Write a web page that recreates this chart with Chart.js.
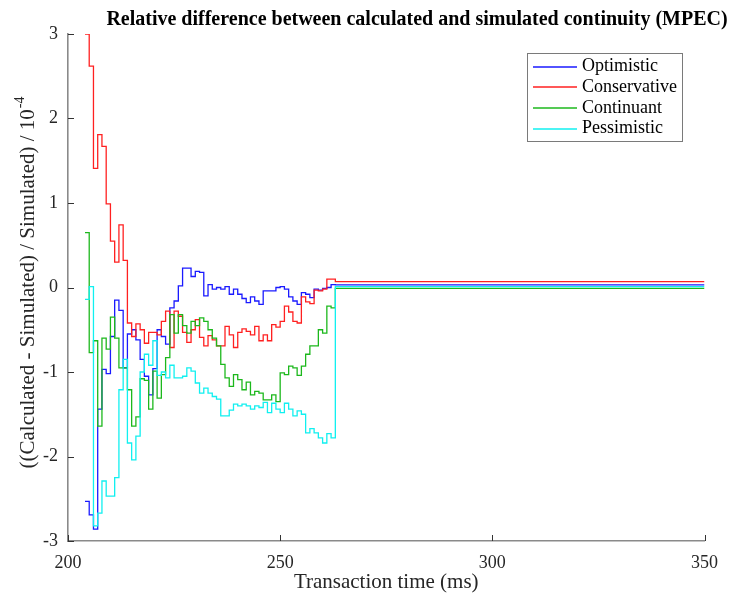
<!DOCTYPE html>
<html>
<head>
<meta charset="utf-8">
<script src="https://cdn.jsdelivr.net/npm/chart.js@4/dist/chart.umd.min.js"></script>
<style>
  html, body { margin: 0; padding: 0; background: #ffffff; }
  #wrap { width: 729px; height: 599px; }
</style>
</head>
<body>
<div id="wrap"><canvas id="c" width="729" height="599"></canvas></div>
<script>
// Transaction times (ms) at which each step starts
const times = [204,205,206,207,208,209,210,211,212,213,214,215,216,217,218,219,220,221,222,223,
  224,225,226,227,228,229,230,231,232,233,234,235,236,237,238,239,240,241,242,243,
  244,245,246,247,248,249,250,251,252,253,254,255,256,257,258,259,260,261,262];
// Time at which every model settles, and end of the time axis
const settleTime = 263;
const endTime = 350;

// Relative difference (x 1e-4) per model
const optimistic = [-2.53,-2.69,-2.86,-1.44,-0.97,-1.02,-0.58,-0.15,-0.27,-0.95,-0.55,-0.50,-0.62,-0.85,-1.05,-1.27,-0.96,-0.50,-0.58,-0.67,
  -0.24,-0.16,0.02,0.23,0.23,0.13,0.19,0.18,-0.10,0.035,-0.02,0.0,-0.02,0.01,-0.08,-0.02,-0.08,-0.13,-0.18,-0.11,
  -0.16,-0.20,-0.04,-0.04,-0.04,0.0,0.01,-0.02,-0.11,-0.16,-0.20,-0.06,-0.08,-0.12,-0.02,-0.03,-0.01,0.0,0.035];
const conservative = [3.0,2.62,1.41,1.81,1.67,0.99,0.55,0.30,0.74,0.32,-0.42,-0.58,-0.43,-0.50,-0.66,-0.53,-0.53,-0.56,-0.40,-0.28,
  -0.71,-0.28,-0.34,-0.53,-0.65,-0.50,-0.38,-0.59,-0.69,-0.57,-0.62,-0.69,-0.69,-0.46,-0.56,-0.71,-0.53,-0.49,-0.52,-0.56,
  -0.46,-0.63,-0.56,-0.63,-0.44,-0.47,-0.40,-0.22,-0.29,-0.40,-0.42,-0.11,-0.17,-0.19,-0.03,-0.04,-0.02,0.10,0.10];
const continuant = [0.65,-0.77,-0.63,-1.64,-0.60,-0.73,-0.35,-0.60,-0.95,-0.95,-1.21,-1.64,-1.53,-1.08,-1.10,-1.44,-0.99,-1.31,-1.03,-0.83,
  -0.32,-0.54,-0.32,-0.45,-0.54,-0.40,-0.45,-0.36,-0.40,-0.50,-0.60,-0.69,-0.91,-1.07,-1.17,-1.03,-1.09,-1.21,-1.12,-1.27,
  -1.23,-1.25,-1.33,-1.33,-1.27,-1.35,-1.01,-1.03,-0.93,-0.95,-1.04,-0.93,-0.79,-0.69,-0.69,-0.50,-0.54,-0.22,-0.24];
const pessimistic = [-0.14,0.01,-2.82,-2.67,-2.29,-2.47,-2.47,-2.25,-1.21,-0.85,-1.84,-2.04,-1.76,-1.00,-0.79,-0.92,-0.63,-1.04,-1.00,-1.07,
  -0.92,-1.07,-1.07,-1.05,-0.95,-0.99,-1.13,-1.25,-1.19,-1.25,-1.29,-1.32,-1.52,-1.52,-1.45,-1.38,-1.40,-1.38,-1.40,-1.44,
  -1.40,-1.42,-1.36,-1.48,-1.37,-1.44,-1.48,-1.37,-1.44,-1.52,-1.46,-1.50,-1.72,-1.67,-1.72,-1.78,-1.84,-1.73,-1.78];
// Settled values after the transient
const settledValues = { optimistic: 0.03, conservative: 0.07, continuant: -0.01, pessimistic: 0.01 };

const seriesNames = ['Optimistic', 'Conservative', 'Continuant', 'Pessimistic'];
const seriesColors = ['#1a1aff', '#ff2020', '#1cb81c', '#10f0f0'];
const xTicks = [200, 250, 300, 350];
const yTicks = [-3, -2, -1, 0, 1, 2, 3];

const serif = "'Liberation Serif', 'Times New Roman', serif";

function toPoints(values, settled) {
  const pts = times.map((t, i) => ({ x: t, y: values[i] }));
  pts.push({ x: settleTime, y: settled });
  pts.push({ x: endTime, y: settled });
  return pts;
}

const seriesValues = [optimistic, conservative, continuant, pessimistic];
const settledList = [settledValues.optimistic, settledValues.conservative, settledValues.continuant, settledValues.pessimistic];

const datasets = seriesNames.map((name, i) => ({
  label: name,
  data: toPoints(seriesValues[i], settledList[i]),
  borderColor: seriesColors[i],
  backgroundColor: seriesColors[i],
  borderWidth: 1.3,
  pointRadius: 0,
  stepped: true,
  fill: false,
  order: seriesNames.length - i
}));

// Titles, inward tick marks and the boxed legend
const decorations = {
  id: 'decorations',
  afterDraw(chart) {
    const ctx = chart.ctx;
    const area = chart.chartArea;
    const xs = chart.scales.x, ys = chart.scales.y;
    ctx.save();

    // inward tick marks
    ctx.strokeStyle = '#333333';
    ctx.lineWidth = 1;
    ctx.beginPath();
    xTicks.forEach(v => {
      const px = Math.round(xs.getPixelForValue(v)) + 0.5;
      ctx.moveTo(px, area.bottom);
      ctx.lineTo(px, area.bottom - 6);
    });
    yTicks.forEach(v => {
      const py = Math.round(ys.getPixelForValue(v)) + 0.5;
      ctx.moveTo(area.left, py);
      ctx.lineTo(area.left + 6, py);
    });
    ctx.stroke();

    // chart title
    ctx.fillStyle = '#000000';
    ctx.font = 'bold 20px ' + serif;
    ctx.textAlign = 'center';
    ctx.textBaseline = 'middle';
    ctx.fillText('Relative difference between calculated and simulated continuity (MPEC)', 417, 20);

    // x axis title
    ctx.fillStyle = '#262626';
    ctx.font = '21px ' + serif;
    ctx.fillText('Transaction time (ms)', (area.left + area.right) / 2, 582);

    // y axis title with superscript exponent
    const mainText = '((Calculated - Simulated) / Simulated) / 10';
    const supText = '-4';
    ctx.font = '21px ' + serif;
    const w1 = ctx.measureText(mainText).width;
    ctx.font = '14px ' + serif;
    const w2 = ctx.measureText(supText).width;
    ctx.translate(28, 283);
    ctx.rotate(-Math.PI / 2);
    ctx.textAlign = 'left';
    ctx.font = '21px ' + serif;
    const start = -(w1 + w2) / 2;
    ctx.fillText(mainText, start, 0);
    ctx.font = '14px ' + serif;
    ctx.fillText(supText, start + w1 + 1, -8);
    ctx.setTransform(1, 0, 0, 1, 0, 0);

    // legend
    const lx = 527, ly = 53, lw = 155, lh = 88;
    ctx.fillStyle = '#ffffff';
    ctx.fillRect(lx, ly, lw, lh);
    ctx.strokeStyle = '#7a7a7a';
    ctx.lineWidth = 1;
    ctx.strokeRect(lx + 0.5, ly + 0.5, lw, lh);
    ctx.font = '18px ' + serif;
    ctx.textAlign = 'left';
    ctx.textBaseline = 'middle';
    chart.data.datasets.forEach((ds, i) => {
      const rowY = 66.5 + i * 20.7;
      ctx.strokeStyle = ds.borderColor;
      ctx.lineWidth = 1.5;
      ctx.beginPath();
      ctx.moveTo(533, Math.round(rowY));
      ctx.lineTo(577, Math.round(rowY));
      ctx.stroke();
      ctx.fillStyle = '#000000';
      ctx.fillText(ds.label, 582, rowY);
    });
    ctx.restore();
  }
};

new Chart(document.getElementById('c'), {
  type: 'line',
  data: { datasets },
  options: {
    responsive: false,
    animation: false,
    layout: { padding: { top: 34, right: 17, left: 0, bottom: 0 } },
    plugins: {
      legend: { display: false },
      title: { display: false },
      tooltip: { enabled: false }
    },
    scales: {
      x: {
        type: 'linear',
        min: 200,
        max: 350,
        afterBuildTicks(scale) { scale.ticks = xTicks.map(v => ({ value: v })); },
        afterFit(scale) { scale.height = 58; },
        grid: { drawOnChartArea: false, drawTicks: false },
        border: { display: true, color: '#8a8a8a', width: 1.6 },
        ticks: {
          padding: 11,
          color: '#262626',
          font: { family: serif, size: 18 },
          maxRotation: 0
        }
      },
      y: {
        type: 'linear',
        min: -3,
        max: 3,
        afterBuildTicks(scale) { scale.ticks = yTicks.map(v => ({ value: v })); },
        afterFit(scale) { scale.width = 68; },
        grid: { drawOnChartArea: false, drawTicks: false },
        border: { display: true, color: '#8a8a8a', width: 1.6 },
        ticks: {
          padding: 10,
          color: '#262626',
          font: { family: serif, size: 18 }
        }
      }
    }
  },
  plugins: [decorations]
});
</script>
</body>
</html>
